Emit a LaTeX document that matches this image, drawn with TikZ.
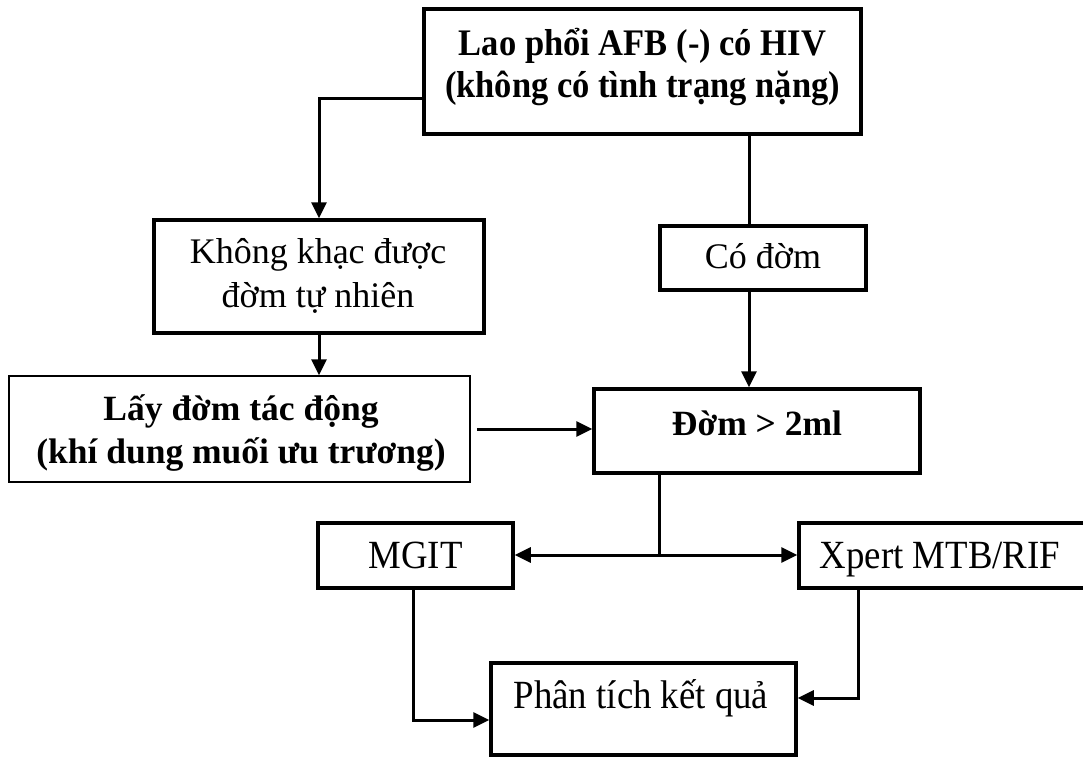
\documentclass[tikz,border=0pt]{standalone}
\usepackage{fontspec}
\usepackage{graphicx}
\setmainfont{Liberation Serif}
\usetikzlibrary{arrows.meta}
\newcommand{\cnd}[1]{\scalebox{0.92}[1]{#1}}
\begin{document}
\begin{tikzpicture}[x=1pt,y=-1pt,
  box/.style={draw, line width=3.5pt, inner sep=0pt},
  thinbox/.style={draw, line width=1.5pt, inner sep=0pt},
  lbl/.style={anchor=base, inner sep=0pt, font=\fontsize{36}{42}\selectfont},
  blbl/.style={anchor=base, inner sep=0pt, font=\fontsize{35.5}{42}\selectfont\bfseries},
  tlbl/.style={anchor=base, inner sep=0pt, font=\fontsize{37.5}{44}\selectfont\bfseries},
  slbl/.style={anchor=base, inner sep=0pt, font=\fontsize{40}{46}\selectfont},
  conn/.style={line width=3pt},
  arr/.style={conn, -{Triangle[length=16pt,width=15pt]}}]
\fill[white] (0,0) rectangle (1083,758);
\useasboundingbox (0,0) rectangle (1083,758);

% boxes
\node[box, minimum width=437pt, minimum height=125pt] (top) at (642.5,71.5) {};
\node[box, minimum width=330pt, minimum height=113pt] (nokh) at (319,276.5) {};
\node[thinbox, minimum width=461pt, minimum height=106pt] (lay) at (239.5,429) {};
\node[box, minimum width=206pt, minimum height=64pt] (co) at (763,258) {};
\node[box, minimum width=326pt, minimum height=84pt] (dom) at (757,431) {};
\node[box, minimum width=195pt, minimum height=65pt] (mgit) at (415.5,555.5) {};
\node[box, minimum width=287pt, minimum height=65pt] (xpert) at (942.5,555.5) {};
\node[box, minimum width=305pt, minimum height=92pt] (res) at (643.5,709) {};

% texts
\node[tlbl] (t1) at (642.5,55) {\cnd{Lao phổi AFB (-) có HIV}};
\node[tlbl] (t2) at (642.5,97) {\cnd{(không có tình trạng nặng)}};
\node[lbl] (n1) at (318,263) {Không khạc được};
\node[lbl] (n2) at (318,307) {đờm tự nhiên};
\node[blbl] (l1) at (241,420) {Lấy đờm tác động};
\node[blbl] (l2) at (241,463) {(khí dung muối ưu trương)};
\node[lbl] (c1) at (763,268) {Có đờm};
\node[blbl] (d1) at (757,435) {Đờm > 2ml};
\node[slbl] (m1) at (415.5,568) {\cnd{MGIT}};
\node[slbl] (x1) at (940,568) {\cnd{Xpert MTB/RIF}};
\node[slbl] (r1) at (641,708) {\cnd{Phân tích kết quả}};

% connectors
\draw[arr] ([yshift=-26.5pt]top.west) -| (nokh.north);
\draw[conn] ([xshift=106.5pt]top.south) -- ([xshift=-14pt]co.north);
\draw[arr] ([xshift=-14pt]co.south) -- ([xshift=-14pt]co.south |- dom.north);
\draw[arr] (nokh.south) -- (nokh.south |- lay.north);
\draw[arr] ([xshift=6pt]lay.east) -- (dom.west |- lay.east);
\coordinate (j) at (659,555);
\draw[conn] (dom.south -| j) -- (j);
\draw[arr] (j) -- (mgit.east |- j);
\draw[arr] (j) -- (xpert.west |- j);
\draw[arr] ([xshift=-2.5pt]mgit.south) |- ([yshift=-11pt]res.west);
\draw[arr] ([xshift=-84.5pt]xpert.south) |- ([yshift=11pt]res.east);
\end{tikzpicture}
\end{document}
